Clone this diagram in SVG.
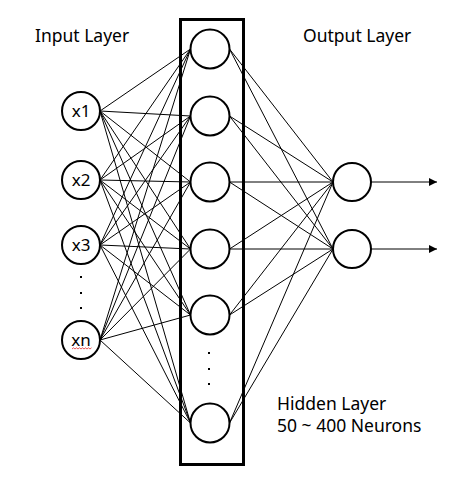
<svg xmlns="http://www.w3.org/2000/svg" width="467" height="479" viewBox="0 0 467 479">
<style>
.node{fill:#fff;stroke:#000;stroke-width:2}
.lbl{font-family:"Noto Sans","Liberation Sans",sans-serif;font-size:17.5px;fill:#000}
.nl{font-family:"Noto Sans","Liberation Sans",sans-serif;font-size:17px;fill:#000;text-anchor:middle}
#connectors line{stroke:#000;stroke-width:1}
.dot{fill:#000}
</style>
<defs>
<marker id="arr" markerWidth="10" markerHeight="10" refX="8" refY="4" orient="auto" markerUnits="userSpaceOnUse">
<path d="M0,0 L8,4 L0,8 Z" fill="#000"/>
</marker>
</defs>
<rect width="467" height="479" fill="#fff"/>
<g id="connectors">
<line x1="100" y1="111" x2="190.5" y2="49"/><line x1="100" y1="111" x2="190.5" y2="116"/><line x1="100" y1="111" x2="190.5" y2="182"/><line x1="100" y1="111" x2="190.5" y2="249"/><line x1="100" y1="111" x2="190.5" y2="315"/><line x1="100" y1="111" x2="190.5" y2="423"/>
<line x1="100" y1="180" x2="190.5" y2="49"/><line x1="100" y1="180" x2="190.5" y2="116"/><line x1="100" y1="180" x2="190.5" y2="182"/><line x1="100" y1="180" x2="190.5" y2="249"/><line x1="100" y1="180" x2="190.5" y2="315"/><line x1="100" y1="180" x2="190.5" y2="423"/>
<line x1="100" y1="245" x2="190.5" y2="49"/><line x1="100" y1="245" x2="190.5" y2="116"/><line x1="100" y1="245" x2="190.5" y2="182"/><line x1="100" y1="245" x2="190.5" y2="249"/><line x1="100" y1="245" x2="190.5" y2="315"/><line x1="100" y1="245" x2="190.5" y2="423"/>
<line x1="100" y1="340" x2="190.5" y2="49"/><line x1="100" y1="340" x2="190.5" y2="116"/><line x1="100" y1="340" x2="190.5" y2="182"/><line x1="100" y1="340" x2="190.5" y2="249"/><line x1="100" y1="340" x2="190.5" y2="315"/><line x1="100" y1="340" x2="190.5" y2="423"/>
<line x1="229.5" y1="49" x2="333" y2="182"/><line x1="229.5" y1="49" x2="333" y2="249"/>
<line x1="229.5" y1="116" x2="333" y2="182"/><line x1="229.5" y1="116" x2="333" y2="249"/>
<line x1="229.5" y1="182" x2="333" y2="182"/><line x1="229.5" y1="182" x2="333" y2="249"/>
<line x1="229.5" y1="249" x2="333" y2="182"/><line x1="229.5" y1="249" x2="333" y2="249"/>
<line x1="229.5" y1="315" x2="333" y2="182"/><line x1="229.5" y1="315" x2="333" y2="249"/>
<line x1="229.5" y1="423" x2="333" y2="182"/><line x1="229.5" y1="423" x2="333" y2="249"/>
<line x1="371" y1="182" x2="437" y2="182" marker-end="url(#arr)"/>
<line x1="371" y1="249" x2="437" y2="249" marker-end="url(#arr)"/>
</g>
<g id="hidden-layer-box">
<rect x="180.5" y="19.5" width="63" height="445" fill="none" stroke="#000" stroke-width="3"/>
</g>
<g id="in-x1"><circle class="node" cx="81" cy="111" r="19"/><text class="nl" x="81" y="117">x1</text></g>
<g id="in-x2"><circle class="node" cx="81" cy="180" r="19"/><text class="nl" x="81" y="186">x2</text></g>
<g id="in-x3"><circle class="node" cx="81" cy="245" r="19"/><text class="nl" x="81" y="251">x3</text></g>
<g id="in-dots"><rect class="dot" x="80" y="276" width="2" height="2"/><rect class="dot" x="80" y="292" width="2" height="2"/><rect class="dot" x="80" y="307" width="2" height="2"/></g>
<g id="in-xn"><circle class="node" cx="81" cy="340" r="19"/><text class="nl" x="81" y="346">xn</text>
<path d="M72,349 l1.5,-1.2 l1.5,1.2 l1.5,-1.2 l1.5,1.2 l1.5,-1.2 l1.5,1.2 l1.5,-1.2 l1.5,1.2 l1.5,-1.2 l1.5,1.2 l1.5,-1.2 l1.5,1.2 l1.5,-1.2" fill="none" stroke="#e03030" stroke-width="0.8"/></g>
<g id="h1"><circle class="node" cx="210" cy="49" r="19.5"/></g>
<g id="h2"><circle class="node" cx="210" cy="116" r="19.5"/></g>
<g id="h3"><circle class="node" cx="210" cy="182" r="19.5"/></g>
<g id="h4"><circle class="node" cx="210" cy="249" r="19.5"/></g>
<g id="h5"><circle class="node" cx="210" cy="315" r="19.5"/></g>
<g id="h-dots"><rect class="dot" x="208" y="352" width="2" height="2"/><rect class="dot" x="208" y="368" width="2" height="2"/><rect class="dot" x="208" y="383" width="2" height="2"/></g>
<g id="h6"><circle class="node" cx="210" cy="423" r="19.5"/></g>
<g id="o1"><circle class="node" cx="352" cy="182" r="19"/></g>
<g id="o2"><circle class="node" cx="352" cy="249" r="19"/></g>
<g id="labels">
<text class="lbl" x="35" y="42">Input Layer</text>
<text class="lbl" x="303" y="42">Output Layer</text>
<text class="lbl" x="277" y="410">Hidden Layer</text>
<text class="lbl" x="277" y="432">50 ~ 400 Neurons</text>
</g>
</svg>
